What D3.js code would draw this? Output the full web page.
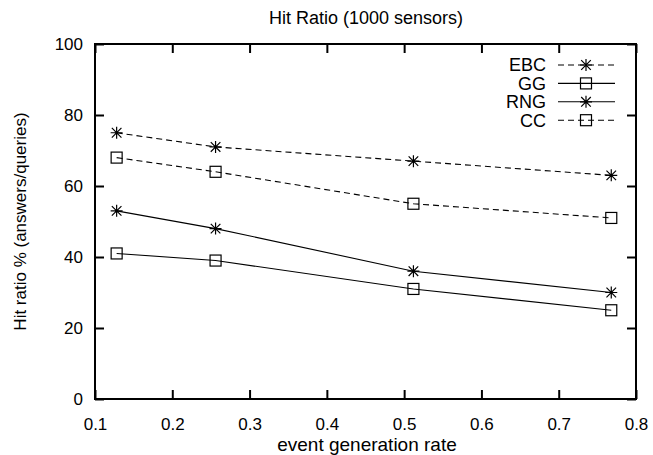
<!DOCTYPE html>
<html>
<head>
<meta charset="utf-8">
<script src="https://cdn.jsdelivr.net/npm/d3@7.9.0/dist/d3.min.js"></script>
<style>
  body { margin: 0; background: #fff; }
  svg { display: block; font-family: "Liberation Sans", Arial, sans-serif; }
</style>
</head>
<body>
<svg id="chart" width="653" height="455"></svg>
<script>
// event generation rate
const rates = [0.128, 0.256, 0.512, 0.768];

const seriesNames = ['EBC', 'GG', 'RNG', 'CC'];
const ebc = [75, 71, 67, 63];
const gg = [41, 39, 31, 25];
const rng = [53, 48, 36, 30];
const cc = [68, 64, 55, 51];

const xTicks = [0.1, 0.2, 0.3, 0.4, 0.5, 0.6, 0.7, 0.8];
const yTicks = [0, 20, 40, 60, 80, 100];

const series = [
  { name: 'EBC', values: ebc, dashed: true, marker: 'star' },
  { name: 'GG', values: gg, dashed: false, marker: 'box' },
  { name: 'RNG', values: rng, dashed: false, marker: 'star' },
  { name: 'CC', values: cc, dashed: true, marker: 'box' }
];

const margin = { left: 95, right: 17, top: 44, bottom: 56 };
const W = 653, H = 455;
const svg = d3.select('#chart');

const x = d3.scaleLinear().domain([0.1, 0.8]).range([margin.left, W - margin.right]);
const y = d3.scaleLinear().domain([0, 100]).range([H - margin.bottom, margin.top]);

const tickLen = 9;

// ticks: inside, mirrored on opposite side
svg.append('g')
  .attr('transform', `translate(0,${y(0)})`)
  .call(d3.axisBottom(x).tickValues(xTicks).tickSizeInner(-tickLen).tickSizeOuter(0).tickPadding(19).tickFormat(d3.format('.1f')))
  .call(g => g.select('.domain').remove());
svg.append('g')
  .attr('transform', `translate(0,${y(100)})`)
  .call(d3.axisTop(x).tickValues(xTicks).tickSizeInner(-tickLen).tickSizeOuter(0).tickFormat(''))
  .call(g => g.select('.domain').remove());
svg.append('g')
  .attr('transform', `translate(${x(0.1)},0)`)
  .call(d3.axisLeft(y).tickValues(yTicks).tickSizeInner(-tickLen).tickSizeOuter(0).tickPadding(12))
  .call(g => g.select('.domain').remove());
svg.append('g')
  .attr('transform', `translate(${x(0.8)},0)`)
  .call(d3.axisRight(y).tickValues(yTicks).tickSizeInner(-tickLen).tickSizeOuter(0).tickFormat(''))
  .call(g => g.select('.domain').remove());

svg.selectAll('.tick line').attr('stroke', '#000').attr('stroke-width', 2);
svg.selectAll('.tick text').attr('font-size', 17).attr('fill', '#000')
  .attr('font-family', '"Liberation Sans", Arial, sans-serif');

// frame
svg.append('rect')
  .attr('x', x(0.1)).attr('y', y(100))
  .attr('width', x(0.8) - x(0.1)).attr('height', y(0) - y(100))
  .attr('fill', 'none').attr('stroke', '#000').attr('stroke-width', 2);

function drawMarker(g, kind, cx, cy) {
  if (kind === 'box') {
    g.append('rect').attr('x', cx - 5.5).attr('y', cy - 5.5).attr('width', 11).attr('height', 11)
      .attr('fill', 'none').attr('stroke', '#000').attr('stroke-width', 1.2);
  } else {
    const r = 6;
    const p = `M${cx - r},${cy}L${cx + r},${cy}M${cx},${cy - r}L${cx},${cy + r}` +
      `M${cx - r * 0.8},${cy - r * 0.8}L${cx + r * 0.8},${cy + r * 0.8}M${cx - r * 0.8},${cy + r * 0.8}L${cx + r * 0.8},${cy - r * 0.8}`;
    g.append('path').attr('d', p).attr('stroke', '#000').attr('stroke-width', 1.2).attr('fill', 'none');
  }
}

const line = d3.line().x((d, i) => x(rates[i])).y(d => y(d));

series.forEach(s => {
  svg.append('path')
    .attr('d', line(s.values))
    .attr('fill', 'none').attr('stroke', '#000').attr('stroke-width', 1.1)
    .attr('stroke-dasharray', s.dashed ? '6,4' : null);
  const g = svg.append('g');
  s.values.forEach((v, i) => drawMarker(g, s.marker, x(rates[i]), y(v)));
});

// legend
series.forEach((s, i) => {
  const ly = 65 + i * 18.4;
  svg.append('text').attr('x', 546).attr('y', ly).attr('dy', '0.35em')
    .attr('text-anchor', 'end').attr('font-size', 18).text(s.name);
  svg.append('line').attr('x1', 558).attr('x2', 615).attr('y1', ly).attr('y2', ly)
    .attr('stroke', '#000').attr('stroke-width', 1.1)
    .attr('stroke-dasharray', s.dashed ? '6,4' : null);
  drawMarker(svg.append('g'), s.marker, 586, ly);
});

// titles
svg.append('text').attr('x', 366).attr('y', 24)
  .attr('text-anchor', 'middle').attr('font-size', 18).text('Hit Ratio (1000 sensors)');
svg.append('text').attr('x', 367).attr('y', 451)
  .attr('text-anchor', 'middle').attr('font-size', 19).text('event generation rate');
svg.append('text')
  .attr('transform', `translate(26,${(y(0) + y(100)) / 2}) rotate(-90)`)
  .attr('text-anchor', 'middle').attr('font-size', 17).text('Hit ratio % (answers/queries)');
</script>
</body>
</html>
